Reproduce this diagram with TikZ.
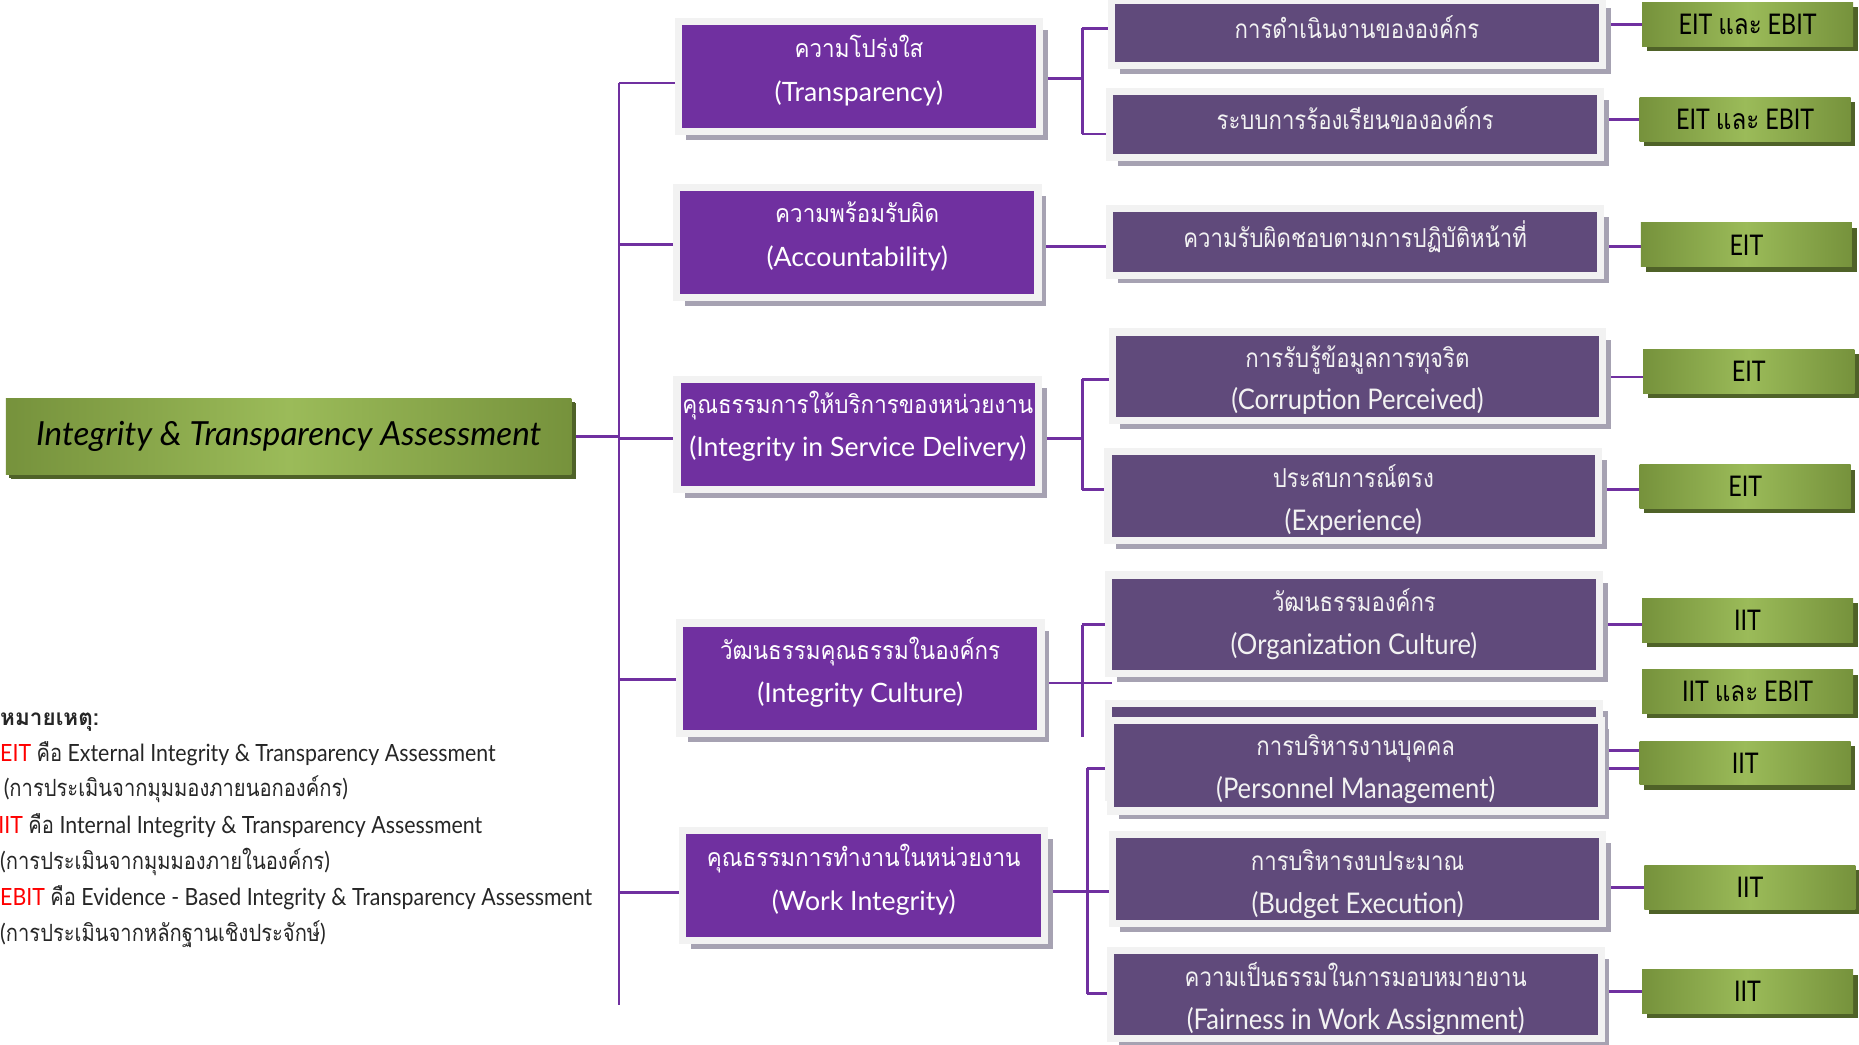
\documentclass[tikz,border=0pt]{standalone}
\usepackage{fontspec}
\setmainfont{Lato}
\newfontfamily\thaifont[Script=Thai]{Loma}
\newfontfamily\thaimid[Script=Thai,FakeStretch=0.9]{Loma}
\newfontfamily\thaicond[Script=Thai,FakeStretch=0.85]{Loma}
\newfontfamily\latcond[FakeStretch=0.82]{Lato}
\newfontfamily\latright[FakeStretch=0.9]{Lato}
\usetikzlibrary{shadows}
\definecolor{linepurple}{HTML}{7030A0}
\definecolor{midpurple}{HTML}{7030A0}
\definecolor{rpurple}{HTML}{604A7B}
\definecolor{framegray}{HTML}{F2F2F2}
\definecolor{shadowgray}{HTML}{A6A2B2}
\definecolor{gedge}{HTML}{76923C}
\definecolor{gmid}{HTML}{9BBB59}
\definecolor{gshadow}{HTML}{4F6228}
\definecolor{legred}{HTML}{FF0000}
\definecolor{rtext}{HTML}{F2F2F2}
\pgfdeclarelayer{background}
\pgfsetlayers{background,main}
\newcommand\thm[1]{{\thaimid #1}}
\newcommand\thn[1]{{\thaicond #1}}
\newcommand\rl[1]{{\latright\fontsize{24}{36}\selectfont #1}}
\newcommand\ml[1]{{\fontsize{22.5}{38}\selectfont #1}}
\begin{document}
\begin{tikzpicture}[x=1pt,y=-1pt,
  conn/.style={draw=linepurple,line width=2.3pt},
  midbox/.style={fill=midpurple,draw=framegray,line width=6pt,inner sep=0pt,
    minimum width=305pt,minimum height=93pt,
    general shadow={fill=shadowgray,shadow xshift=7pt,shadow yshift=-7pt}},
  mtext/.style={align=center,inner sep=0pt,text=white,yshift=5pt,
    font=\fontsize{21}{37}\selectfont},
  rbox/.style={fill=rpurple,draw=framegray,line width=6pt,inner sep=0pt,
    minimum width=414pt,
    general shadow={fill=shadowgray,shadow xshift=7pt,shadow yshift=-7pt}},
  rtxt/.style={align=center,inner sep=0pt,text=rtext,yshift=#1,
    font=\fontsize{22}{36}\selectfont},
  gbox/.style={inner sep=0pt,minimum width=178pt,minimum height=37pt,
    left color=gedge,right color=gedge,middle color=gmid,text=black,
    font=\latcond\fontsize{24}{28}\selectfont,
    general shadow={fill=gshadow,shadow xshift=4pt,shadow yshift=-4pt}},
  leg/.style={anchor=base west,inner sep=0pt,font=\latright\fontsize{20}{24}\selectfont,text=black!85}
]
\useasboundingbox (0,0) rectangle (1568,881);

% root
\node[gbox,minimum width=477pt,minimum height=64pt,
  general shadow={fill=gshadow,shadow xshift=3pt,shadow yshift=-3pt},
  font=\itshape\fontsize{28}{30}\selectfont] (root) at (243.5,368) {Integrity \& Transparency Assessment};

% middle boxes
\node[midbox,label={[mtext]center:{\thm{ความโปร่งใส}\\\ml{(Transparency)}}}] (m1) at (724.5,64.5) {};
\node[midbox,label={[mtext]center:{\thm{ความพร้อมรับผิด}\\\ml{(Accountability)}}}] (m2) at (723,204.5) {};
\node[midbox,label={[mtext,yshift=2pt]center:{\thm{คุณธรรมการให้บริการของหน่วยงาน}\\\ml{(Integrity in Service Delivery)}}}] (m3) at (723.5,366.5) {};
\node[midbox,label={[mtext]center:{\thm{วัฒนธรรมคุณธรรมในองค์กร}\\\ml{(Integrity Culture)}}}] (m4) at (725.5,572) {};
\node[midbox,label={[mtext]center:{\thm{คุณธรรมการทำงานในหน่วยงาน}\\\ml{(Work Integrity)}}}] (m5) at (728.5,747) {};

% right boxes
\node[rbox,minimum height=55pt,label={[rtxt=5pt]center:{\thn{การดำเนินงานขององค์กร}}}] (r1) at (1144.5,27.5) {};
\node[rbox,minimum height=56pt,label={[rtxt=5pt]center:{\thn{ระบบการร้องเรียนขององค์กร}}}] (r2) at (1143,105) {};
\node[rbox,minimum height=56pt,label={[rtxt=4pt]center:{\thn{ความรับผิดชอบตามการปฏิบัติหน้าที่}}}] (r3) at (1143,204) {};
\node[rbox,minimum height=75pt,label={[rtxt=-3pt]center:{\thn{การรับรู้ข้อมูลการทุจริต}\\\rl{(Corruption Perceived)}}}] (r4) at (1145,317.5) {};
\node[rbox,minimum height=75pt,label={[rtxt=-3pt]center:{\thn{ประสบการณ์ตรง}\\\rl{(Experience)}}}] (r5) at (1141.5,418.5) {};
\node[rbox,minimum height=83pt,label={[rtxt=0pt]center:{\thn{วัฒนธรรมองค์กร}\\\rl{(Organization Culture)}}}] (r6) at (1142,526.5) {};
\node[rbox,minimum height=80pt] (r7) at (1142,633) {};
\node[rbox,minimum height=76pt,label={[rtxt=-3pt]center:{\thn{การบริหารงานบุคคล}\\\rl{(Personnel Management)}}}] (r8) at (1143.5,646) {};
\node[rbox,minimum height=75pt,label={[rtxt=-4pt]center:{\thn{การบริหารงบประมาณ}\\\rl{(Budget Execution)}}}] (r9) at (1145,741.5) {};
\node[rbox,minimum height=74pt,label={[rtxt=-3pt]center:{\thn{ความเป็นธรรมในการมอบหมายงาน}\\\rl{(Fairness in Work Assignment)}}}] (r10) at (1143.5,839) {};

% green boxes
\node[gbox] (g1) at (1474,20.5) {EIT \thn{และ} EBIT};
\node[gbox] (g2) at (1472,100.5) {EIT \thn{และ} EBIT};
\node[gbox] (g3) at (1473,206.5) {EIT};
\node[gbox] (g4) at (1475,313.5) {EIT};
\node[gbox] (g5) at (1472,410.5) {EIT};
\node[gbox] (g6) at (1474,523.5) {IIT};
\node[gbox] (g7) at (1474,583.5) {IIT \thn{และ} EBIT};
\node[gbox] (g8) at (1472,643.5) {IIT};
\node[gbox] (g9) at (1476,748.5) {IIT};
\node[gbox] (g10) at (1474,836.5) {IIT};

% legend
\node[leg,font=\thaifont\bfseries\fontsize{19}{24}\selectfont] (l0) at (0,612) {หมายเหตุ:};
\node[leg] (l1) at (0,642) {\textcolor{legred}{EIT} \thn{คือ} External Integrity \& Transparency Assessment};
\node[leg] (l2) at (3,672) {(\thn{การประเมินจากมุมมองภายนอกองค์กร})};
\node[leg] (l3) at (-1.5,703) {\textcolor{legred}{IIT} \thn{คือ} Internal Integrity \& Transparency Assessment};
\node[leg] (l4) at (0,733) {(\thn{การประเมินจากมุมมองภายในองค์กร})};
\node[leg] (l5) at (0,764) {\textcolor{legred}{EBIT} \thn{คือ} Evidence - Based Integrity \& Transparency Assessment};
\node[leg] (l6) at (0,794) {(\thn{การประเมินจากหลักฐานเชิงประจักษ์})};

% junction coordinates
\coordinate (t1) at (522,70);
\coordinate (t2) at (522,206);
\coordinate (t3) at (522,370);
\coordinate (t4) at (522,573);
\coordinate (t5) at (522,753);
\coordinate (tend) at (522,848);
\coordinate (a1) at (913,24);
\coordinate (a2) at (913,113);
\coordinate (b1) at (913,320);
\coordinate (b2) at (913,413);
\coordinate (c1) at (913,527);
\coordinate (c2) at (913,622);
\coordinate (c3) at (938,576);
\coordinate (d1) at (917,648);
\coordinate (d2) at (917,752);
\coordinate (d3) at (917,838);
\coordinate (e1) at (0,633);
\coordinate (e2) at (0,648);

\begin{pgfonlayer}{background}
\draw[conn] (root.east) -- (root.east -| t1);
\draw[conn] (t1) -- (tend);
\draw[conn] (t1) -- (t1 -| m1.west);
\draw[conn] (t2) -- (t2 -| m2.west);
\draw[conn] (t3) -- (t3 -| m3.west);
\draw[conn] (t4) -- (t4 -| m4.west);
\draw[conn] (t5) -- (t5 -| m5.west);
% transparency
\draw[conn] (m1.east |- 0,66) -- (a1 |- 0,66);
\draw[conn] (a1) -- (a2);
\draw[conn] (a1) -- (a1 -| r1.west);
\draw[conn] (a2) -- (a2 -| r2.west);
% accountability
\draw[conn] (m2.east |- 0,208) -- (r3.west |- 0,208);
% service delivery
\draw[conn] (m3.east |- 0,370) -- (b1 |- 0,370);
\draw[conn] (b1) -- (b2);
\draw[conn] (b1) -- (b1 -| r4.west);
\draw[conn] (b2) -- (b2 -| r5.west);
% culture
\draw[conn] (m4.east |- c3) -- (c3);
\draw[conn] (c1) -- (c2);
\draw[conn] (c1) -- (c1 -| r6.west);
% work integrity
\draw[conn] (m5.east |- d2) -- (d2);
\draw[conn] (d1) -- (d3);
\draw[conn] (d1) -- (d1 -| r8.west);
\draw[conn] (d2) -- (d2 -| r9.west);
\draw[conn] (d3) -- (d3 -| r10.west);
% to green
\draw[conn] (r1.east |- g1.west) -- (g1.west);
\draw[conn] (r2.east |- g2.west) -- (g2.west);
\draw[conn] (r3.east |- 0,208) -- (g3.west |- 0,208);
\draw[conn] (r4.east |- 0,318) -- (g4.west |- 0,318);
\draw[conn] (r5.east |- 0,413) -- (g5.west |- 0,413);
\draw[conn] (r6.east |- 0,527) -- (g6.west |- 0,527);
\draw[conn] (r8.east |- e1) -- (g8.west |- e1);
\draw[conn] (r8.east |- e2) -- (g8.west |- e2);
\draw[conn,line width=3.2pt] (r9.east |- g9.west) -- (g9.west);
\draw[conn] (r10.east |- g10.west) -- (g10.west);
\end{pgfonlayer}
\end{tikzpicture}
\end{document}
